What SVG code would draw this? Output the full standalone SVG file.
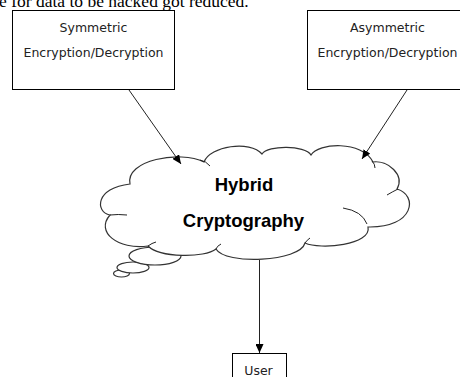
<svg xmlns="http://www.w3.org/2000/svg" width="460" height="377" viewBox="0 0 460 377">
<style>
.box{fill:#fff;stroke:#000;stroke-width:1}
.lbl{font-family:"DejaVu Sans",sans-serif;font-size:12.5px;fill:#222;text-anchor:middle}
.big{font-family:"Liberation Sans",Arial,sans-serif;font-weight:bold;font-size:18.5px;fill:#000;text-anchor:middle}
.ln{stroke:#222;stroke-width:1;fill:none}
.cl{fill:#fff;stroke:#333;stroke-width:1.2}
</style>
<defs>
<marker id="ah" markerWidth="10" markerHeight="8" refX="9" refY="4" orient="auto" markerUnits="userSpaceOnUse">
<path d="M0,0 L9,4 L0,8 Z" fill="#000"/>
</marker>
</defs>
<rect width="460" height="377" fill="#fff"/>
<text x="-1" y="7" font-family="'Liberation Serif',serif" font-size="17.5" fill="#000">e for data to be hacked got reduced.</text>
<g id="symmetric">
<rect class="box" x="12.5" y="10.5" width="162" height="79"/>
<text class="lbl" x="93.5" y="32">Symmetric</text>
<text class="lbl" x="93.5" y="57">Encryption/Decryption</text>
</g>
<g id="asymmetric">
<rect class="box" x="307.5" y="10.5" width="162" height="79"/>
<text class="lbl" x="387.5" y="32">Asymmetric</text>
<text class="lbl" x="387.5" y="57">Encryption/Decryption</text>
</g>
<g id="hybrid">
<ellipse class="cl" cx="121.5" cy="273.5" rx="8" ry="3.5"/>
<ellipse class="cl" cx="133" cy="267.5" rx="16" ry="5.5"/>
<ellipse class="cl" cx="155" cy="256" rx="26" ry="9"/>
<path class="cl" d="M130,184 C125,160 180,150 204,162 C210,146 250,140 262,154 C268,145 305,145 311,155 C318,143 362,140 373,162 C388,160 405,175 397,189 C418,195 415,228 368,227 C372,245 320,250 305,243 C300,262 225,265 216,249 C205,258 160,258 148,246 C118,250 95,232 110,215 C95,212 95,188 130,184 Z"/>
<path class="ln" d="M200,160 Q206,161 210,166 M372,161 Q375,164 375,168 M398,189 Q392,192 387,195 M343,208 Q362,211 367,224 M216,249 Q217,246 221,244 M110,215 Q118,214 127,215 M148,246 Q152,243 156,242 M305,243 Q307,240 310,238"/>
<text class="big" x="244" y="191">Hybrid</text>
<text class="big" x="243.5" y="227">Cryptography</text>
</g>
<g id="user">
<rect class="box" x="232.5" y="353.5" width="54" height="30"/>
<text class="lbl" x="258.5" y="375">User</text>
</g>
<g id="connectors">
<line class="ln" x1="129" y1="90" x2="181" y2="164" marker-end="url(#ah)"/>
<line class="ln" x1="407" y1="90" x2="362" y2="159" marker-end="url(#ah)"/>
<line class="ln" x1="259.5" y1="260" x2="259.5" y2="353" marker-end="url(#ah)"/>
</g>
</svg>
